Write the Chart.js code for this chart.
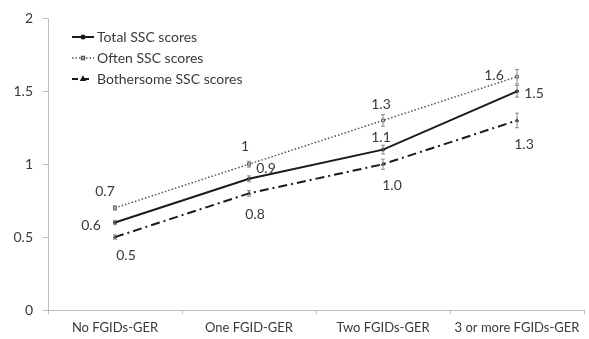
<!DOCTYPE html>
<html>
<head>
<meta charset="utf-8">
<script src="https://cdn.jsdelivr.net/npm/chart.js@4/dist/chart.umd.min.js"></script>
<style>
  html, body { margin: 0; padding: 0; background: #fff; }
  #wrap { width: 589px; height: 339px; position: relative; }
</style>
</head>
<body>
<div id="wrap"><canvas id="c" width="589" height="339"></canvas></div>
<script>
// Categories and mean SSC scores per group
const categories = ['No FGIDs-GER', 'One FGID-GER', 'Two FGIDs-GER', '3 or more FGIDs-GER'];
const totalScores = [0.6, 0.9, 1.1, 1.5];
const oftenScores = [0.7, 1.0, 1.3, 1.6];
const bothersomeScores = [0.5, 0.8, 1.0, 1.3];
// Error bar half-widths
const totalErr = [0.015, 0.02, 0.03, 0.04];
const oftenErr = [0.015, 0.02, 0.04, 0.05];
const bothersomeErr = [0.015, 0.02, 0.035, 0.05];
// Printed value labels
const totalLabels = ['0.6', '0.9', '1.1', '1.5'];
const oftenLabels = ['0.7', '1', '1.3', '1.6'];
const bothersomeLabels = ['0.5', '0.8', '1.0', '1.3'];
const yTicks = [0, 0.5, 1, 1.5, 2];

const FONT = 'Lato, "Open Sans", sans-serif';
const TEXT = '#3a3a3a';

// Draw vertical error bars with small caps
const errorBars = {
  id: 'errorBars',
  afterDatasetsDraw(chart) {
    const ctx = chart.ctx, y = chart.scales.y;
    chart.data.datasets.forEach((ds, i) => {
      const meta = chart.getDatasetMeta(i);
      ctx.save();
      ctx.strokeStyle = '#8a8a8a';
      ctx.lineWidth = 1;
      ds.errors.forEach((e, j) => {
        const pt = meta.data[j];
        const v = ds.data[j];
        const y1 = y.getPixelForValue(v - e), y2 = y.getPixelForValue(v + e);
        ctx.beginPath();
        ctx.moveTo(pt.x, y1); ctx.lineTo(pt.x, y2);
        ctx.moveTo(pt.x - 2, y1); ctx.lineTo(pt.x + 2, y1);
        ctx.moveTo(pt.x - 2, y2); ctx.lineTo(pt.x + 2, y2);
        ctx.stroke();
      });
      ctx.restore();
    });
  }
};

// Value labels next to each point
const valueLabels = {
  id: 'valueLabels',
  afterDatasetsDraw(chart) {
    const ctx = chart.ctx;
    ctx.save();
    ctx.font = '14px ' + FONT;
    ctx.fillStyle = TEXT;
    ctx.textAlign = 'center';
    ctx.textBaseline = 'middle';
    chart.data.datasets.forEach((ds, i) => {
      const meta = chart.getDatasetMeta(i);
      ds.valueLabels.forEach((t, j) => {
        const pt = meta.data[j];
        const off = ds.labelOffsets[j];
        ctx.fillText(t, pt.x + off[0], pt.y + off[1]);
      });
    });
    ctx.restore();
  }
};

// Legend drawn inside the plot area with line samples
const insideLegend = {
  id: 'insideLegend',
  afterDraw(chart) {
    const ctx = chart.ctx;
    const x0 = 72, x1 = 94, tx = 97;
    const rows = [37, 58, 79];
    ctx.save();
    chart.data.datasets.forEach((ds, i) => {
      const yy = rows[i];
      ctx.strokeStyle = ds.borderColor;
      ctx.lineWidth = ds.borderWidth;
      ctx.setLineDash(ds.legendDash || []);
      ctx.beginPath(); ctx.moveTo(x0, yy); ctx.lineTo(x1, yy); ctx.stroke();
      ctx.setLineDash([]);
      ctx.fillStyle = ds.pointBackgroundColor;
      ctx.strokeStyle = ds.pointBorderColor;
      Chart.helpers.drawPoint(ctx, {
        pointStyle: ds.pointStyle, radius: ds.pointRadius, borderWidth: 1, rotation: 0
      }, (x0 + x1) / 2, yy);
      ctx.fillStyle = TEXT;
      ctx.font = '14px ' + FONT;
      ctx.textBaseline = 'middle';
      ctx.textAlign = 'left';
      ctx.fillText(ds.label, tx, yy);
    });
    ctx.restore();
  }
};

new Chart(document.getElementById('c'), {
  type: 'line',
  data: {
    labels: categories,
    datasets: [
      {
        label: 'Total SSC scores', data: totalScores, errors: totalErr,
        valueLabels: totalLabels, labelOffsets: [[-24, 3], [17, -10], [-2, -12], [17, 2]],
        borderColor: '#1a1a1a', backgroundColor: '#1a1a1a', borderWidth: 2,
        pointStyle: 'circle', pointRadius: 1.5, pointBorderWidth: 1,
        pointBorderColor: '#1a1a1a', pointBackgroundColor: '#1a1a1a'
      },
      {
        label: 'Often SSC scores', data: oftenScores, errors: oftenErr,
        valueLabels: oftenLabels, labelOffsets: [[-10, -16], [-4, -18], [-2, -16], [-23, -1]],
        borderColor: '#555555', backgroundColor: '#ffffff', borderWidth: 1.5,
        borderDash: [1.5, 2], legendDash: [1.5, 2],
        pointStyle: 'rect', pointRadius: 2, pointBorderWidth: 1,
        pointBorderColor: '#555555', pointBackgroundColor: '#ffffff'
      },
      {
        label: 'Bothersome SSC scores', data: bothersomeScores, errors: bothersomeErr,
        valueLabels: bothersomeLabels, labelOffsets: [[11, 18], [6, 21], [9, 21], [7, 24]],
        borderColor: '#1a1a1a', backgroundColor: '#1a1a1a', borderWidth: 2,
        borderDash: [9, 4, 2, 4], legendDash: [6, 5],
        pointStyle: 'triangle', pointRadius: 1.8, pointBorderWidth: 1,
        pointBorderColor: '#1a1a1a', pointBackgroundColor: '#1a1a1a'
      }
    ]
  },
  options: {
    responsive: false,
    animation: false,
    devicePixelRatio: 1,
    layout: { padding: { top: 15, right: 1, left: 0, bottom: 0 } },
    plugins: { legend: { display: false }, tooltip: { enabled: false } },
    scales: {
      x: {
        offset: true,
        grid: { offset: true, drawOnChartArea: false, drawTicks: true, tickLength: 4, color: '#bdbdbd' },
        border: { color: '#bdbdbd', width: 1 },
        ticks: { color: TEXT, font: { family: FONT, size: 13 }, maxRotation: 0, autoSkip: false, padding: 6 },
        afterFit(s) { s.height = 29; }
      },
      y: {
        min: 0, max: 2,
        afterBuildTicks(s) { s.ticks = yTicks.map(v => ({ value: v })); },
        grid: { drawOnChartArea: false, drawTicks: true, tickLength: 5, color: '#bdbdbd' },
        border: { color: '#bdbdbd', width: 1 },
        ticks: { color: TEXT, font: { family: FONT, size: 14 }, padding: 10, callback: v => String(v) },
        afterFit(s) { s.width = 48; }
      }
    }
  },
  plugins: [errorBars, valueLabels, insideLegend]
});
</script>
</body>
</html>
